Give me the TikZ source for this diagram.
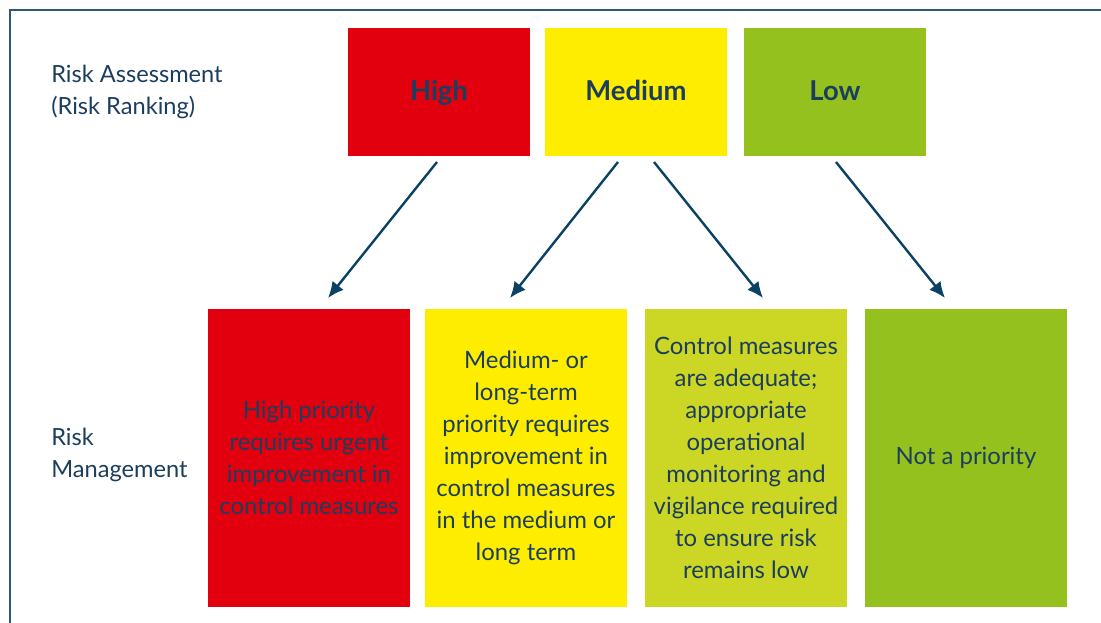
\documentclass[tikz,border=0pt]{standalone}
\usepackage{fontspec}
\setmainfont{Lato}
\usetikzlibrary{arrows.meta}

\definecolor{rm-Frame}{RGB}{44,88,118}
\definecolor{rm-Text}{RGB}{28,62,94}
\definecolor{rm-Arrow}{RGB}{10,66,100}
\definecolor{rm-High}{RGB}{226,0,15}
\definecolor{rm-Medium}{RGB}{255,237,0}
\definecolor{rm-Adequate}{RGB}{203,214,37}
\definecolor{rm-Low}{RGB}{149,193,31}

\tikzstyle{rm-rank}=[rectangle,
                     text=rm-Text,
                     text centered,
                     text height=1.16em,
                     text depth=0pt,
                     minimum width=4.55cm,
                     minimum height=3.175cm,
                     font=\fontsize{19.5}{22}\selectfont\bfseries,
                    ]
\tikzstyle{rm-action}=[rectangle,
                       text=rm-Text,
                       align=center,
                       minimum width=5.05cm,
                       minimum height=7.45cm,
                       font=\fontsize{17}{22.7}\selectfont,
                      ]
\tikzstyle{rm-label}=[anchor=west,
                      align=left,
                      text=rm-Text,
                      inner sep=0pt,
                      font=\fontsize{16.8}{23.2}\selectfont,
                     ]
\tikzstyle{rm-arrow}=[-{Latex[length=4mm,width=3.6mm]}, rm-Arrow, line width=1.7pt]

\begin{document}
\begin{tikzpicture}[x=0.025cm, y=-0.025cm]
    \useasboundingbox (0,0) rectangle (1101,623);

    % Frame
    % --------------------------------------------------------------------------
    \draw[rm-Frame, line width=1.3pt] (10,623) -- (10,10) -- (1101,10);

    % Side labels
    % --------------------------------------------------------------------------
    \node at (51, 92) (label_assess) [rm-label] {Risk Assessment\\(Risk Ranking)};
    \node at (51,455) (label_manage) [rm-label] {Risk\\Management};

    % Ranking
    % --------------------------------------------------------------------------
    \node at (439, 92) (high)   [rm-rank, fill=rm-High]   {High};
    \node at (636, 92) (medium) [rm-rank, fill=rm-Medium] {Medium};
    \node at (835, 92) (low)    [rm-rank, fill=rm-Low]    {Low};

    % Management
    % --------------------------------------------------------------------------
    \node at ( 309, 458) (urgent)   [rm-action, fill=rm-High]
        {High priority\\requires urgent\\improvement in\\control measures};
    \node at ( 526, 458) (longterm) [rm-action, fill=rm-Medium]
        {Medium- or\\long-term\\priority requires\\improvement in\\control measures\\in the medium or\\long term};
    \node at ( 746, 458) (adequate) [rm-action, fill=rm-Adequate]
        {Control measures\\are adequate;\\appropriate\\operational\\monitoring and\\vigilance required\\to ensure risk\\remains low};
    \node at ( 966, 458) (nopriority) [rm-action, fill=rm-Low] {Not a priority};

    % Arrow ends
    % --------------------------------------------------------------------------
    \coordinate (high_out)       at (437,162);
    \coordinate (medium_out_l)   at (618,162);
    \coordinate (medium_out_r)   at (654,162);
    \coordinate (low_out)        at (836,162);
    \coordinate (urgent_in)      at (328,298);
    \coordinate (longterm_in)    at (510,298);
    \coordinate (adequate_in)    at (763,298);
    \coordinate (nopriority_in)  at (945,298);

    % Arrows
    % --------------------------------------------------------------------------
    \draw[rm-arrow] (high_out)     -- (urgent_in);
    \draw[rm-arrow] (medium_out_l) -- (longterm_in);
    \draw[rm-arrow] (medium_out_r) -- (adequate_in);
    \draw[rm-arrow] (low_out)      -- (nopriority_in);

\end{tikzpicture}
\end{document}
